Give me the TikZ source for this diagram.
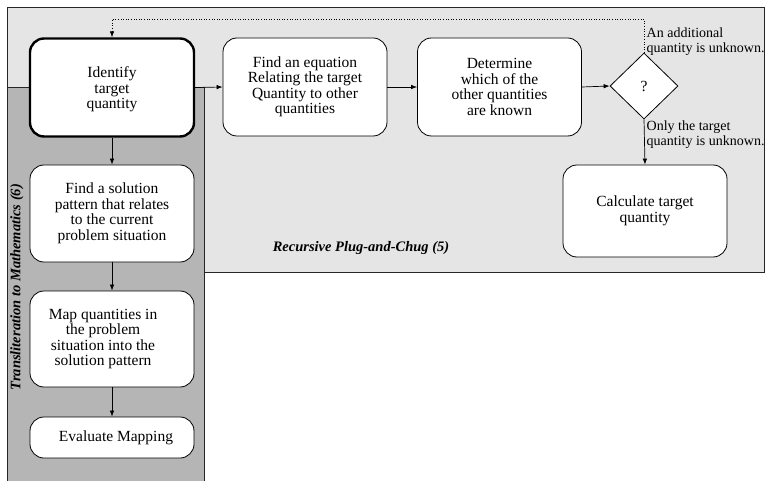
\documentclass[tikz,border=0pt]{standalone}
\usepackage{fontspec}
\setmainfont{Liberation Serif}
\usetikzlibrary{shapes.geometric,arrows.meta}
\definecolor{lightregion}{gray}{0.90}
\definecolor{darkregion}{gray}{0.71}
\begin{document}
\begin{tikzpicture}[x=1pt,y=-1pt,
  every node/.style={font=\fontsize{15.5}{15.5}\selectfont},
  stepbox/.style={draw=black, line width=0.8pt, fill=white, rounded corners=14pt,
    align=center, inner sep=0pt, minimum width=164pt, minimum height=98pt},
  steptext/.style={align=center, inner sep=0pt},
  decision/.style={draw=black, line width=0.8pt, fill=white, diamond, inner sep=0pt,
    minimum width=68pt, minimum height=66pt},
  flow/.style={-{Latex[length=6pt,width=4.5pt]}, line width=0.7pt},
  loopback/.style={-{Latex[length=6pt,width=4.5pt]}, line width=0.6pt, dotted},
  note/.style={align=left, inner sep=0pt, anchor=north west, font=\fontsize{14}{15}\selectfont},
  region/.style={font=\fontsize{14.5}{16}\selectfont\bfseries\itshape}]
\useasboundingbox (0,0) rectangle (768,481);
\fill[white] (0,0) rectangle (768,481);

% process regions
\draw[fill=lightregion, draw=black!85, line width=0.8pt] (7,7) rectangle (764,272);
\begin{scope}
  \clip (0,0) rectangle (768,481);
  \draw[fill=darkregion, draw=black!85, line width=0.8pt] (7,87) rectangle (204,490);
\end{scope}

% steps
\node[stepbox, line width=2.4pt] (identify) at (112,87.5) {};
\node[steptext] (identifytext) at (112,89.5) {Identify\\target\\quantity};
\node[stepbox] (equation) at (305,87) {Find an equation\\Relating the target\\Quantity to other\\quantities};
\node[stepbox] (determine) at (499.5,87) {Determine\\which of the\\other quantities\\are known};
\node[decision] (check) at (644,86) {?};
\node[stepbox, minimum height=92pt] (calculate) at (645,211) {Calculate target\\quantity};

\node[stepbox, minimum height=97pt] (pattern) at (112,213.5) {Find a solution\\pattern that relates\\to the current\\problem situation};
\node[stepbox, minimum height=96pt] (mapq) at (112,339) {};
\node[steptext] (mapqtext) at (103,339) {Map quantities in\\the problem\\situation into the\\solution pattern};
\node[stepbox, minimum height=41pt] (evaluate) at (112,437.5) {\hspace{8pt}Evaluate Mapping};

% region titles
\node[region] (plugchug) at (361,248) {Recursive Plug-and-Chug (5)};
\node[region, rotate=90] (translit) at (17,287) {Transliteration to Mathematics (6)};

% branch notes
\node[note] (addl) at (646.5,27.5) {An additional\\quantity is unknown.};
\node[note] (onlyt) at (646.5,120.5) {Only the target\\quantity is unknown.};

% connectors
\draw[flow] (identify.east) -- (equation.west);
\draw[flow] (equation.east) -- (determine.west);
\draw[flow] (determine.east) -- (check.west);
\draw[flow] (check.south) -- (calculate.north);
\draw[loopback] (check.north) -- (644,19) -- (112,19) -- (identify.north);

\draw[flow] (identify.south) -- (pattern.north);
\draw[flow] (pattern.south) -- (mapq.north);
\draw[flow] (mapq.south) -- (evaluate.north);
\end{tikzpicture}
\end{document}
